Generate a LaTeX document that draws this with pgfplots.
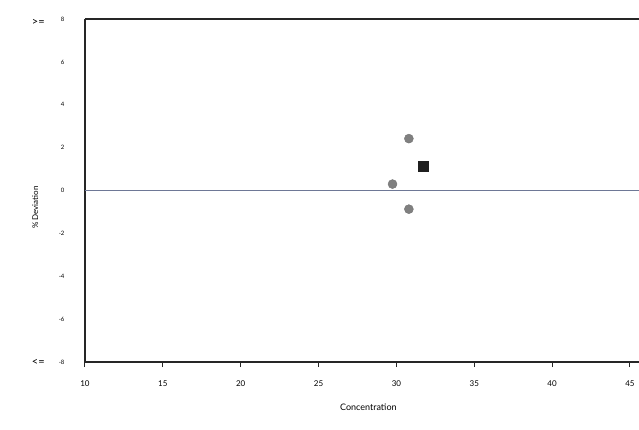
\documentclass[border=0pt]{standalone}
\usepackage{fontspec}
\setmainfont{Lato}
\usepackage{pgfplots}
\pgfplotsset{compat=1.18}
\begin{document}
\begin{tikzpicture}
\path[use as bounding box] (-85pt,-67pt) rectangle (554pt,362pt);
\begin{axis}[
  at={(0,0)}, anchor=south west,
  scale only axis, width=554pt, height=343pt,
  xmin=10, xmax=45.58, ymin=-8, ymax=8,
  axis lines=left,
  axis line style={-, line width=1.2pt, color=black!85},
  xtick={10,15,...,45}, ytick={-8,-6,...,8},
  tick align=outside,
  x tick style={line width=1pt, black!85},
  major tick length=5pt,
  y tick style={draw=none},
  /pgf/number format/assume math mode=true,
  xticklabel style={font=\fontsize{8}{9}\selectfont, yshift=-10pt},
  yticklabel style={font=\fontsize{6}{7}\selectfont, xshift=-12pt},
  clip=false,
]
\draw[line width=1.2pt, black!85] (rel axis cs:0,1) -- (rel axis cs:1,1);
\addplot[color={rgb,255:red,110;green,120;blue,150}, line width=0.8pt] coordinates {(10,0) (45.58,0)};
\addplot[only marks, mark=*, mark size=4.5pt, mark options={fill=black!50, draw=black!55}] coordinates {
  (30.8,2.42) (29.75,0.3) (30.8,-0.87)
};
\addplot[only marks, mark=square*, mark size=5pt, mark options={fill=black!88, draw=black!88}] coordinates {
  (31.72,1.14)
};
\node[font=\fontsize{9}{10}\selectfont] at (axis cs:28.2,-10.1) {Concentration};
\node[font=\fontsize{8}{9}\selectfont, rotate=90] at (rel axis cs:-0.09,0.45) {\% Deviation};
\node[font=\fontsize{11}{12}\selectfont] at (axis cs:7.0,7.85) {>=};
\node[font=\fontsize{11}{12}\selectfont] at (axis cs:7.0,-8.0) {<=};
\end{axis}
\end{tikzpicture}
\end{document}
